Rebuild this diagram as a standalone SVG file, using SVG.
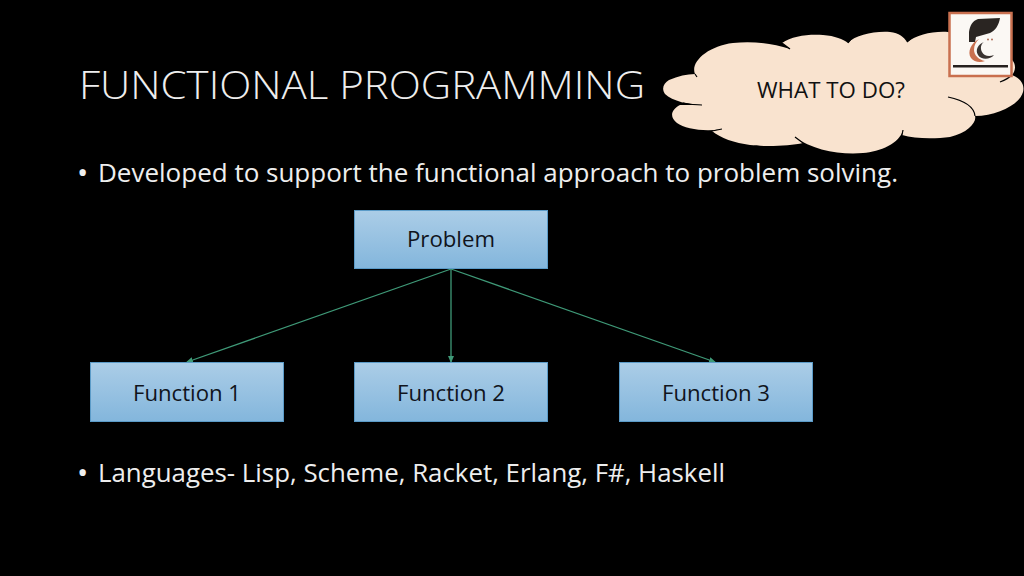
<svg xmlns="http://www.w3.org/2000/svg" width="1024" height="576" viewBox="0 0 1024 576">
<style>
text{font-family:"Open Sans","Noto Sans","Liberation Sans",sans-serif}
.white{fill:#eeeeee}
.box{fill:url(#boxFill);stroke:#5b9bc8;stroke-width:1}
.boxt{font-size:22.500px;fill:#10141c;text-anchor:middle}
.conn{stroke:#3f9a78;stroke-width:1.300;fill:none;marker-end:url(#arrow)}
.crease{fill:none;stroke:#000;stroke-width:1.200}
</style>
<defs>
<linearGradient id="boxFill" x1="0" y1="0" x2="0" y2="1"><stop offset="0" stop-color="#abcde7"/><stop offset="1" stop-color="#83b6dc"/></linearGradient>
<marker id="arrow" markerWidth="7" markerHeight="6" refX="6" refY="3" orient="auto" markerUnits="userSpaceOnUse"><path d="M0 0L7 3L0 6Z" fill="#3f9a78"/></marker>
</defs>
<rect width="1024" height="576" fill="#000"/>
<text id="title" class="white" x="79" y="99" font-size="39" font-weight="300" textLength="566" lengthAdjust="spacingAndGlyphs">FUNCTIONAL PROGRAMMING</text>
<g id="bullet1"><text class="white" x="77" y="183" font-size="30">•</text><text class="white" x="98" y="182" font-size="26" textLength="800" lengthAdjust="spacingAndGlyphs">Developed to support the functional approach to problem solving.</text></g>
<g id="bullet2"><text class="white" x="77" y="483" font-size="30">•</text><text class="white" x="98" y="482" font-size="26" textLength="627" lengthAdjust="spacingAndGlyphs">Languages- Lisp, Scheme, Racket, Erlang, F#, Haskell</text></g>
<g id="cloud">
<path d="M695 74C690 62 708 46 733 43C752 41 772 43 790 49L782 43C792 36 808 34 823 35C835 36 843 39 848 43C856 35 873 31 890 32C899 33 904 37 907 42C917 35 932 31 948 32L1012 60C1016 64 1016 70 1012 75C1020 78 1025 84 1023 92C1020 104 998 116 975 116C977 122 968 133 950 137C935 139 915 139 902 135L903 130C900 143 880 152 863 153C840 155 812 150 795 137L803 143C790 146 765 147 750 145C735 143 720 138 712 131L722 129C705 132 685 129 677 123C670 118 670 110 680 105L702 105C690 105 672 101 665 94C661 88 664 83 669 80C678 76 687 74 695 74Z" fill="#f9e3cf"/>
<path class="crease" d="M695 74L697 77M702 105C695 105 688 104 683 103M712 131L722 129M782 43L790 49M848 43L852 38M907 42L913 37M1000 82C1005 80 1009 78 1012 75M948 97C962 100 974 106 975 116M903 130L902 135M795 137L803 143"/>
<text x="831" y="98" font-size="22" fill="#111" text-anchor="middle" textLength="148" lengthAdjust="spacingAndGlyphs">WHAT TO DO?</text>
</g>
<g id="logo">
<rect x="949.500" y="13" width="62" height="63" fill="#fbf8f4" stroke="#c9704f" stroke-width="2.500"/>
<path d="M1000 18L978 19C972 21 970 26 969 32L969 42L975 42L976 37L990 33C995 31 999 25 1000 18Z" fill="#2a2522"/>
<path d="M979 39C971 43 967 52 971 58C974 62 980 63 985 61C979 60 974 55 974 50C974 45 976 42 979 39Z" fill="#c9704f"/>
<path d="M984 42C978 44 975 50 978 55C981 60 990 60 994 55C989 57 984 56 982 52C980 48 981 44 984 42Z" fill="#3a3330"/>
<circle cx="988" cy="39.500" r="1" fill="#b0705a"/><circle cx="992" cy="39.500" r="1" fill="#b0705a"/>
<rect x="953" y="65" width="55" height="2.500" fill="#26211f"/>
</g>
<g id="connectors">
<path class="conn" d="M451 269L187 362"/>
<path class="conn" d="M451 269L451 362"/>
<path class="conn" d="M451 269L715 362"/>
</g>
<g id="problem"><rect class="box" x="354.500" y="210.500" width="193" height="58"/><text class="boxt" x="451" y="247" textLength="88" lengthAdjust="spacingAndGlyphs">Problem</text></g>
<g id="function1"><rect class="box" x="90.500" y="362.500" width="193" height="59"/><text class="boxt" x="187" y="401" textLength="108" lengthAdjust="spacingAndGlyphs">Function 1</text></g>
<g id="function2"><rect class="box" x="354.500" y="362.500" width="193" height="59"/><text class="boxt" x="451" y="401" textLength="108" lengthAdjust="spacingAndGlyphs">Function 2</text></g>
<g id="function3"><rect class="box" x="619.500" y="362.500" width="193" height="59"/><text class="boxt" x="716" y="401" textLength="108" lengthAdjust="spacingAndGlyphs">Function 3</text></g>
</svg>
